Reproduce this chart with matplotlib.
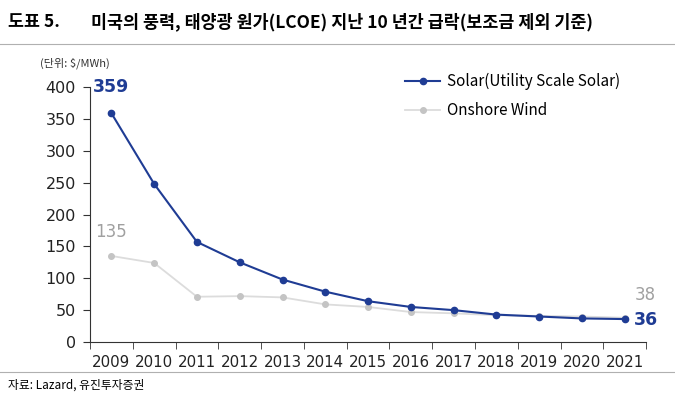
import matplotlib
matplotlib.use('Agg')
import matplotlib.pyplot as plt
import numpy as np

plt.rcParams['font.family'] = ['Noto Sans CJK KR', 'DejaVu Sans']

# 연도와 LCOE ($/MWh)
years = ['2009', '2010', '2011', '2012', '2013', '2014', '2015',
         '2016', '2017', '2018', '2019', '2020', '2021']
solar = [359, 248, 157, 125, 98, 79, 64, 55, 50, 43, 40, 37, 36]
wind = [135, 124, 71, 72, 70, 59, 55, 47, 45, 42, 41, 40, 38]

navy = '#1f3c94'
grey_line = '#dcdcdc'
grey_mark = '#c4c4c4'
grey_text = '#a0a0a0'
num_font = ['DejaVu Sans']

fig = plt.figure(figsize=(6.75, 3.97), dpi=100)
ax = fig.add_axes([0.1333, 0.1385, 0.824, 0.6423])

x = np.arange(len(years))
ax.plot(x, wind, color=grey_line, lw=1.3, marker='o', ms=4,
        mfc=grey_mark, mec=grey_mark, label='Onshore Wind', zorder=2)
ax.plot(x, solar, color=navy, lw=1.5, marker='o', ms=4.5,
        mfc=navy, mec=navy, label='Solar(Utility Scale Solar)', zorder=3)

ax.set_xlim(-0.5, len(years) - 0.5)
ax.set_ylim(0, 400)
ax.set_yticks(range(0, 401, 50))
ax.set_xticks(x)
ax.set_xticklabels(years)
ax.set_xticks(np.arange(-0.5, len(years)), minor=True)
ax.tick_params(axis='y', length=5, color='#333333', pad=5)
ax.tick_params(axis='x', which='major', length=0, pad=9)
ax.tick_params(axis='x', which='minor', length=5, color='#333333')
for lab in ax.get_yticklabels():
    lab.set_fontfamily(num_font)
    lab.set_fontsize(11.5)
    lab.set_color('#222222')
for lab in ax.get_xticklabels():
    lab.set_fontfamily(num_font)
    lab.set_fontsize(10.8)
    lab.set_color('#222222')
for s in ['top', 'right']:
    ax.spines[s].set_visible(False)
for s in ['left', 'bottom']:
    ax.spines[s].set_color('#333333')

# 첫/마지막 값 라벨
ax.annotate(f'{solar[0]}', (x[0], solar[0]), xytext=(0, 19), textcoords='offset points',
            ha='center', va='center', color=navy, fontsize=12.5, fontweight='bold',
            family=num_font)
ax.annotate(f'{wind[0]}', (x[0], wind[0]), xytext=(0, 17), textcoords='offset points',
            ha='center', va='center', color=grey_text, fontsize=12, family=num_font)
ax.annotate(f'{solar[-1]}', (x[-1], solar[-1]), xytext=(15, -1), textcoords='offset points',
            ha='center', va='center', color=navy, fontsize=12.5, fontweight='bold',
            family=num_font)
ax.annotate(f'{wind[-1]}', (x[-1], wind[-1]), xytext=(15, 16.5), textcoords='offset points',
            ha='center', va='center', color=grey_text, fontsize=12, family=num_font)

handles, labels = ax.get_legend_handles_labels()
ax.legend(handles[::-1], labels[::-1], loc='upper left',
          bbox_to_anchor=(405 / 675, 1 - 73 / 397), bbox_transform=fig.transFigure,
          frameon=False, fontsize=11, handlelength=2.3, handletextpad=0.45,
          labelspacing=0.8, borderpad=0, borderaxespad=0)

fig.text(0.06, 0.84, '(단위: $/MWh)', fontsize=8, color='#333333', va='center')

# 제목과 구분선
fig.text(0.012, 0.945, '도표 5.', fontsize=12.5, fontweight='bold', va='center')
fig.text(0.135, 0.945, '미국의 풍력, 태양광 원가(LCOE) 지난 10 년간 급락(보조금 제외 기준)',
         fontsize=12.5, fontweight='bold', va='center')
fig.add_artist(plt.Line2D([0, 1], [0.89, 0.89], color='#b0b0b0', lw=0.8))
fig.add_artist(plt.Line2D([0, 1], [0.063, 0.063], color='#b0b0b0', lw=0.8))
fig.text(0.012, 0.03, '자료: Lazard, 유진투자증권', fontsize=8.5, va='center')

fig.savefig('out.png', dpi=100)
